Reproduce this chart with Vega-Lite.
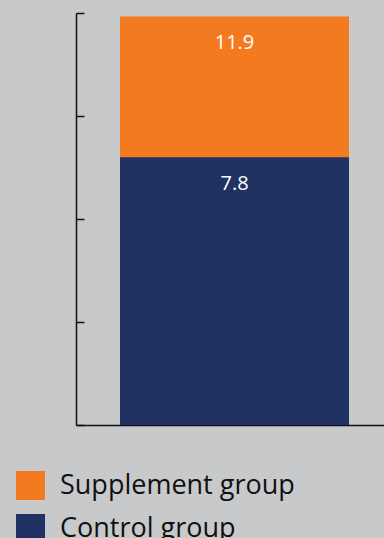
{
  "$schema": "https://vega.github.io/schema/vega-lite/v6.json",
  "width": 308,
  "height": 412,
  "autosize": "none",
  "padding": {"left": 76, "top": 13, "right": 0, "bottom": 113},
  "background": "#c8c9cb",
  "config": {"view": {"stroke": null}, "font": "Open Sans"},
  "data": {
    "values": [
      {"group": "Supplement group", "cat": "all", "value": 11.9},
      {"group": "Control group", "cat": "all", "value": 7.8}
    ]
  },
  "encoding": {
    "x": {
      "field": "cat",
      "type": "nominal",
      "scale": {"paddingInner": 0, "paddingOuter": 0.1725, "align": 0.557},
      "axis": {"title": null, "labels": false, "ticks": false, "domainColor": "#111111", "domainWidth": 1.5}
    },
    "y": {
      "field": "value",
      "type": "quantitative",
      "stack": null,
      "scale": {"domain": [0, 12]},
      "axis": {
        "title": null,
        "labels": false,
        "grid": false,
        "values": [0, 3, 6, 9, 12],
        "tickSize": -8,
        "tickColor": "#111111",
        "tickWidth": 1.5,
        "domainColor": "#111111",
        "domainWidth": 1.5
      }
    }
  },
  "layer": [
    {
      "mark": {"type": "bar"},
      "encoding": {
        "color": {
          "field": "group",
          "type": "nominal",
          "sort": null,
          "scale": {"domain": ["Supplement group", "Control group"], "range": ["#f47a20", "#1f3263"]},
          "legend": {
            "title": null,
            "orient": "none",
            "legendX": -60,
            "legendY": 458,
            "padding": 0,
            "symbolType": "square",
            "symbolSize": 841,
            "symbolStrokeWidth": 0,
            "symbolOpacity": 1,
            "labelFontSize": 27,
            "labelFont": "Open Sans",
            "labelColor": "#111111",
            "labelOffset": 15,
            "rowPadding": 14,
            "labelLimit": 400
          }
        }
      }
    },
    {
      "mark": {"type": "text", "color": "white", "fontSize": 20, "baseline": "alphabetic", "dy": 33, "font": "Open Sans"},
      "encoding": {
        "text": {"field": "value", "type": "quantitative", "format": ".1f"}
      }
    }
  ]
}
